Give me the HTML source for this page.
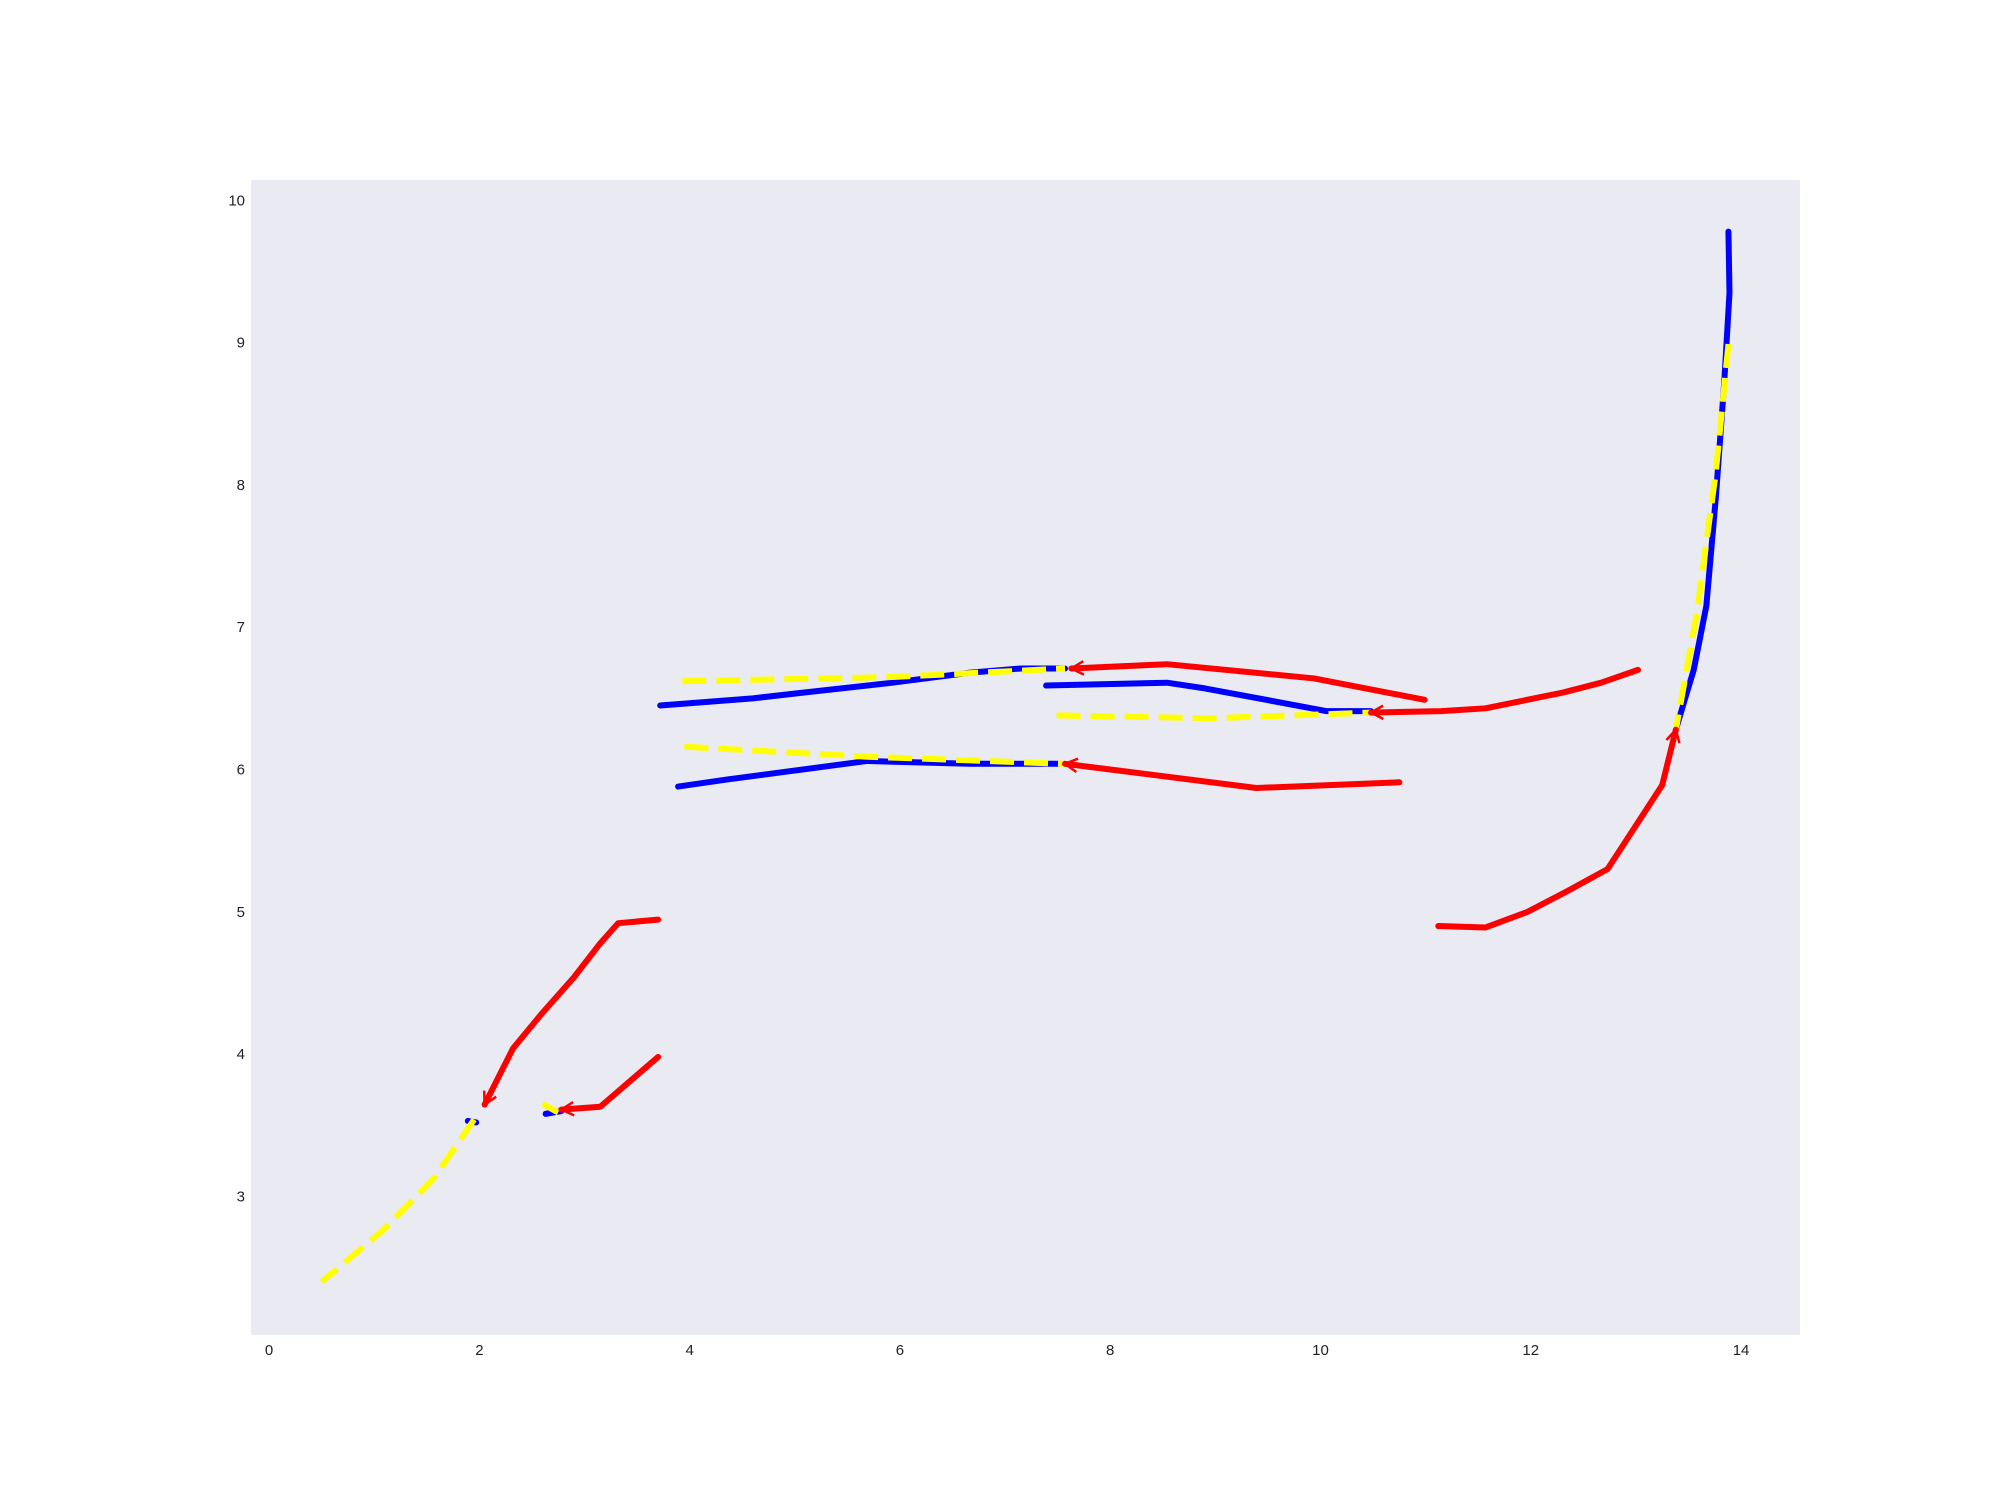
<!DOCTYPE html>
<html><head><meta charset="utf-8"><style>
html,body{margin:0;padding:0;background:#fff;}
svg{display:block;}
text{font-family:"Liberation Sans",sans-serif;font-size:15px;fill:#222;}
</style></head><body>
<svg id="chart" width="2000" height="1500">
<rect x="251" y="180" width="1549" height="1155" fill="#eaeaf2"/>
<g id="ticks"></g><g id="lines"></g>
</svg>
<script>
const xTicks=[0,2,4,6,8,10,12,14];
const yTicks=[3,4,5,6,7,8,9,10];
const redX1=[3.70,3.32,3.14,2.90,2.60,2.32,2.05];
const redY1=[4.945,4.92,4.77,4.54,4.29,4.04,3.645];
const yelX1=[1.95,1.56,1.08,0.50];
const yelY1=[3.54,3.12,2.76,2.40];
const bluX1=[1.89,1.97];
const bluY1=[3.53,3.52];
const redX2=[3.70,3.15,2.78];
const redY2=[3.98,3.63,3.61];
const bluX2=[2.63,2.78];
const bluY2=[3.58,3.60];
const yelX2=[2.60,2.75];
const yelY2=[3.65,3.59];
const bluX3=[3.72,4.60,5.08,5.93,6.66,7.15,7.57];
const bluY3=[6.45,6.50,6.54,6.61,6.68,6.71,6.71];
const yelX3=[3.93,5.93,7.57];
const yelY3=[6.62,6.65,6.71];
const redX3=[10.99,9.94,8.54,7.63];
const redY3=[6.49,6.64,6.74,6.71];
const bluX4=[7.39,8.54,8.90,10.06,10.48];
const bluY4=[6.59,6.61,6.57,6.41,6.41];
const yelX4=[7.49,8.97,10.48];
const yelY4=[6.38,6.36,6.40];
const redX4=[13.02,12.67,12.30,11.57,11.15,10.48];
const redY4=[6.70,6.61,6.54,6.43,6.41,6.40];
const bluX5=[3.89,4.36,5.69,6.66,7.51];
const bluY5=[5.88,5.93,6.06,6.04,6.04];
const yelX5=[3.95,5.69,7.57];
const yelY5=[6.16,6.09,6.04];
const redX5=[10.75,9.39,8.0,7.57];
const redY5=[5.91,5.87,6.0,6.04];
const bluX6=[13.88,13.89,13.84,13.76,13.67,13.55,13.46,13.38];
const bluY6=[9.78,9.35,8.72,7.91,7.15,6.70,6.48,6.28];
const yelX6=[13.88,13.76,13.58,13.38];
const yelY6=[8.99,8.09,7.10,6.28];
const redX6=[11.12,11.57,11.97,12.36,12.73,13.25,13.38];
const redY6=[4.90,4.89,5.0,5.15,5.30,5.89,6.28];

const NS="http://www.w3.org/2000/svg";
function sx(v){return 269.1+v*105.14;}
function sy(v){return 200.3+(10-v)*142.3;}
const tg=document.getElementById('ticks');
xTicks.forEach(t=>{const e=document.createElementNS(NS,'text');


e.setAttribute('x',sx(t));e.setAttribute('y',1355);e.setAttribute('text-anchor','middle');e.textContent=t;tg.appendChild(e);});
yTicks.forEach(t=>{const e=document.createElementNS(NS,'text');


e.setAttribute('x',245);e.setAttribute('y',sy(t)+5);e.setAttribute('text-anchor','end');e.textContent=t;tg.appendChild(e);});
const lg=document.getElementById('lines');
function line(xs,ys,color,dash,name){
  const p=document.createElementNS(NS,'polyline');
  
  
  p.setAttribute('points',xs.map((x,i)=>sx(x)+','+sy(ys[i])).join(' '));
  p.setAttribute('fill','none');p.setAttribute('stroke',color);p.setAttribute('stroke-width',6);
  p.setAttribute('stroke-linejoin','round');
  if(dash){p.setAttribute('stroke-dasharray','24 10');}else{p.setAttribute('stroke-linecap','round');}
  lg.appendChild(p);
}
function arrow(xs,ys,name){
  const n=xs.length;const x1=sx(xs[n-2]),y1=sy(ys[n-2]),x2=sx(xs[n-1]),y2=sy(ys[n-1]);
  const a=Math.atan2(y2-y1,x2-x1);const L=14;
  const p=document.createElementNS(NS,'path');
  
  
  const d=`M${x2-L*Math.cos(a-0.5)},${y2-L*Math.sin(a-0.5)} L${x2},${y2} L${x2-L*Math.cos(a+0.5)},${y2-L*Math.sin(a+0.5)}`;
  p.setAttribute('d',d);p.setAttribute('fill','none');p.setAttribute('stroke','red');p.setAttribute('stroke-width',2.5);
  lg.appendChild(p);
}
const B='#0000ff',Y='#ffff00',R='#ff0000';
line(bluX1,bluY1,B,false,'blue-line-1');line(yelX1,yelY1,Y,true,'yellow-line-1');line(redX1,redY1,R,false,'red-line-1');arrow(redX1,redY1,'arrow-1');
line(bluX2,bluY2,B,false,'blue-line-2');line(yelX2,yelY2,Y,true,'yellow-line-2');line(redX2,redY2,R,false,'red-line-2');arrow(redX2,redY2,'arrow-2');
line(bluX3,bluY3,B,false,'blue-line-3');line(yelX3,yelY3,Y,true,'yellow-line-3');line(redX3,redY3,R,false,'red-line-3');arrow(redX3,redY3,'arrow-3');
line(bluX4,bluY4,B,false,'blue-line-4');line(yelX4,yelY4,Y,true,'yellow-line-4');line(redX4,redY4,R,false,'red-line-4');arrow(redX4,redY4,'arrow-4');
line(bluX5,bluY5,B,false,'blue-line-5');line(yelX5,yelY5,Y,true,'yellow-line-5');line(redX5,redY5,R,false,'red-line-5');arrow(redX5,redY5,'arrow-5');
line(bluX6,bluY6,B,false,'blue-line-6');line(yelX6,yelY6,Y,true,'yellow-line-6');line(redX6,redY6,R,false,'red-line-6');arrow(redX6,redY6,'arrow-6');
</script>
</body></html>
